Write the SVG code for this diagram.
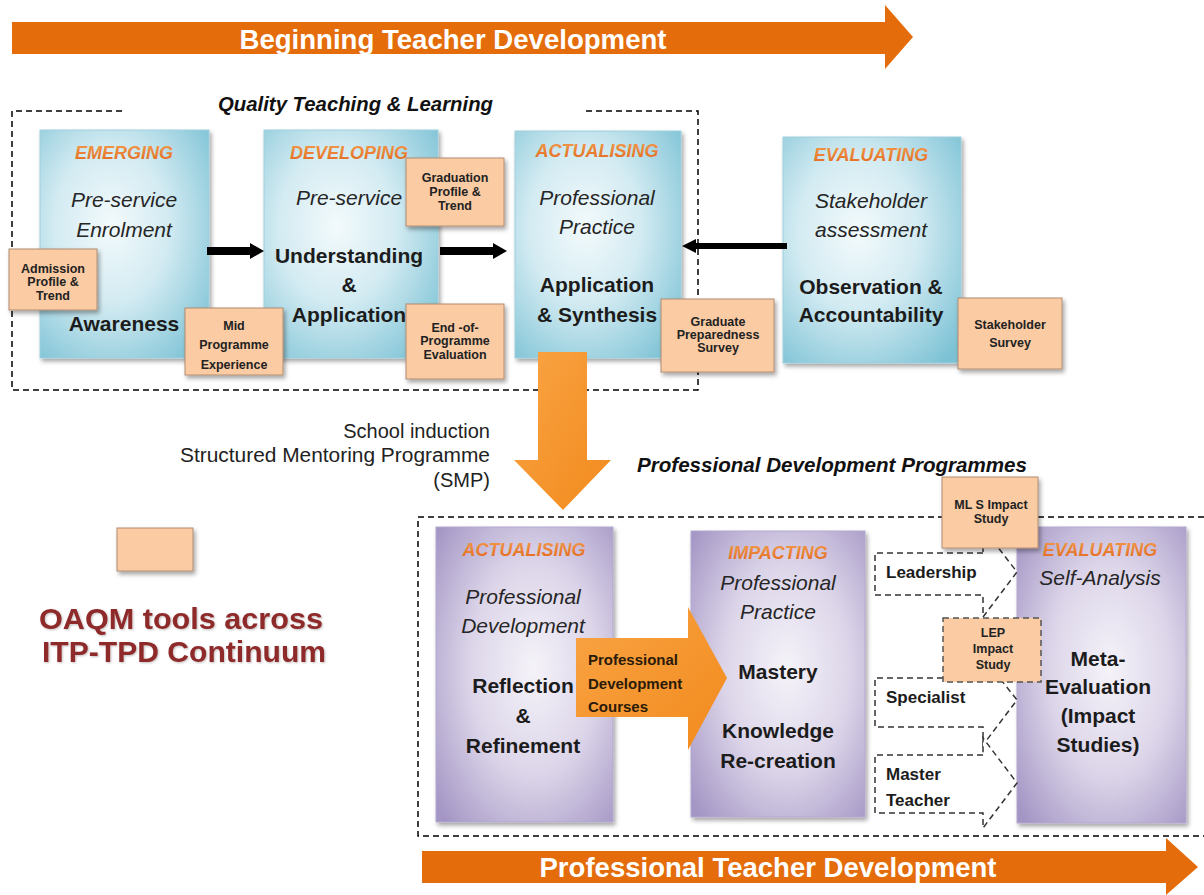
<svg xmlns="http://www.w3.org/2000/svg" width="1204" height="895" viewBox="0 0 1204 895">
<defs>
  <radialGradient id="gBlue" cx="42%" cy="42%" r="75%">
    <stop offset="0" stop-color="#F3FAFC"/>
    <stop offset="0.45" stop-color="#D3EBF2"/>
    <stop offset="1" stop-color="#7CC2D5"/>
  </radialGradient>
  <radialGradient id="gPurple" cx="55%" cy="48%" r="72%">
    <stop offset="0" stop-color="#F5F3F9"/>
    <stop offset="0.5" stop-color="#DCD5E9"/>
    <stop offset="1" stop-color="#A395C4"/>
  </radialGradient>
  <linearGradient id="gOrange" x1="0" y1="0" x2="1" y2="1">
    <stop offset="0" stop-color="#F9A445"/>
    <stop offset="1" stop-color="#F28A1C"/>
  </linearGradient>
  <linearGradient id="gLabel" x1="0" y1="0" x2="0" y2="1">
    <stop offset="0" stop-color="#F39A4A"/>
    <stop offset="1" stop-color="#E2681E"/>
  </linearGradient>
  <filter id="sh" x="-10%" y="-10%" width="130%" height="130%">
    <feDropShadow dx="2" dy="3" stdDeviation="2" flood-color="#000" flood-opacity="0.35"/>
  </filter>
  <filter id="tsh" x="-5%" y="-10%" width="110%" height="130%">
    <feDropShadow dx="1" dy="1" stdDeviation="1" flood-color="#000" flood-opacity="0.25"/>
  </filter>
</defs>
<style>
  text { font-family: "Liberation Sans", Arial, sans-serif; }
  .banner { fill: #E46C0A; }
  .bannerTxt { font-weight: bold; font-size: 28px; fill: #FFFFFF; text-anchor: middle; }
  .frame { fill: none; stroke: #000; stroke-width: 1.5; stroke-dasharray: 6 4; }
  .blue { fill: url(#gBlue); stroke: #9FCFDD; stroke-width: 1; filter: url(#sh); }
  .purple { fill: url(#gPurple); stroke: #B3A8CF; stroke-width: 1; filter: url(#sh); }
  .tool { fill: #FBCBA3; stroke: #B08C70; stroke-width: 1; filter: url(#sh); }
  .toolDash { fill: #FBCBA3; stroke: #555; stroke-width: 1.5; stroke-dasharray: 6 4; }
  .toolTxt { font-weight: bold; font-size: 12.5px; fill: #222; text-anchor: middle; }
  .stage { font-style: italic; font-weight: bold; font-size: 18px; fill: url(#gLabel); text-anchor: middle; }
  .it { font-style: italic; font-size: 21px; fill: #262626; text-anchor: middle; }
  .bd { font-weight: bold; font-size: 21px; fill: #1C1C1C; text-anchor: middle; }
  .title { font-weight: bold; font-style: italic; font-size: 20px; fill: #111; }
  .plain { font-size: 20px; fill: #222; text-anchor: end; }
  .pathLbl { font-weight: bold; font-size: 17px; fill: #1C1C1C; }
  .pdc { font-weight: bold; font-size: 15px; fill: #2A1A0A; }
  .blk { fill: #000; }
  .dashArrow { fill: #FFFFFF; stroke: #333; stroke-width: 1.5; stroke-dasharray: 6 4; }
  .legend { font-weight: bold; font-size: 30px; fill: #8E2A2A; text-anchor: middle; filter: url(#tsh); }
</style>

<!-- Banners -->
<g id="banner-beginning">
  <polygon class="banner" points="12,22 885,22 885,5 913,37 885,69 885,54 12,54"/>
  <text class="bannerTxt" x="453" y="49" textLength="427" lengthAdjust="spacingAndGlyphs">Beginning Teacher Development</text>
</g>
<g id="banner-professional">
  <polygon class="banner" points="422,851 1166,851 1166,838 1198,867 1166,895 1166,883 422,883"/>
  <text class="bannerTxt" x="768" y="877" textLength="457" lengthAdjust="spacingAndGlyphs">Professional Teacher Development</text>
</g>

<!-- Frames -->
<g id="frame-quality">
  <path class="frame" d="M122,111 H12 V390 H698 V111 H586"/>
  <text class="title" x="218" y="111" textLength="275" lengthAdjust="spacingAndGlyphs">Quality Teaching &amp; Learning</text>
</g>
<g id="frame-pdp">
  <path class="frame" d="M1204,517 H418 V836 H1204"/>
  <text class="title" x="637" y="472" textLength="390" lengthAdjust="spacingAndGlyphs">Professional Development Programmes</text>
</g>

<!-- Top nodes -->
<g id="node-emerging">
  <rect class="blue" x="40" y="130" width="169" height="228"/>
  <text class="stage" x="124" y="159">EMERGING</text>
  <text class="it" x="124" y="207">Pre-service</text>
  <text class="it" x="124" y="237">Enrolment</text>
  <text class="bd" x="124" y="331">Awareness</text>
</g>
<g id="node-developing">
  <rect class="blue" x="264" y="130" width="174" height="228"/>
  <text class="stage" x="349" y="159">DEVELOPING</text>
  <text class="it" x="349" y="205">Pre-service</text>
  <text class="bd" x="349" y="263">Understanding</text>
  <text class="bd" x="349" y="292">&amp;</text>
  <text class="bd" x="349" y="322">Application</text>
</g>
<g id="node-actualising-top">
  <rect class="blue" x="515" y="131" width="166" height="227"/>
  <text class="stage" x="597" y="157">ACTUALISING</text>
  <text class="it" x="597" y="205">Professional</text>
  <text class="it" x="597" y="234">Practice</text>
  <text class="bd" x="597" y="292">Application</text>
  <text class="bd" x="597" y="322">&amp; Synthesis</text>
</g>
<g id="node-evaluating-top">
  <rect class="blue" x="783" y="137" width="178" height="226"/>
  <text class="stage" x="871" y="161">EVALUATING</text>
  <text class="it" x="871" y="208">Stakeholder</text>
  <text class="it" x="871" y="237">assessment</text>
  <text class="bd" x="871" y="294">Observation &amp;</text>
  <text class="bd" x="871" y="322">Accountability</text>
</g>

<!-- Bottom nodes -->
<g id="node-actualising-bottom">
  <rect class="purple" x="436" y="527" width="177" height="295"/>
  <text class="stage" x="524" y="556">ACTUALISING</text>
  <text class="it" x="523" y="604">Professional</text>
  <text class="it" x="523" y="633">Development</text>
  <text class="bd" x="523" y="693">Reflection</text>
  <text class="bd" x="523" y="723">&amp;</text>
  <text class="bd" x="523" y="753">Refinement</text>
</g>
<g id="node-impacting">
  <rect class="purple" x="691" y="531" width="174" height="286"/>
  <text class="stage" x="778" y="559">IMPACTING</text>
  <text class="it" x="778" y="590">Professional</text>
  <text class="it" x="778" y="619">Practice</text>
  <text class="bd" x="778" y="679">Mastery</text>
  <text class="bd" x="778" y="738">Knowledge</text>
  <text class="bd" x="778" y="768">Re-creation</text>
</g>
<g id="node-evaluating-bottom">
  <rect class="purple" x="1017" y="527" width="169" height="296"/>
  <text class="stage" x="1100" y="556">EVALUATING</text>
  <text class="it" x="1100" y="585">Self-Analysis</text>
  <text class="bd" x="1098" y="666">Meta-</text>
  <text class="bd" x="1098" y="694">Evaluation</text>
  <text class="bd" x="1098" y="723">(Impact</text>
  <text class="bd" x="1098" y="752">Studies)</text>
</g>

<!-- Connectors -->
<g id="connectors">
  <polygon class="blk" points="207,247 250,247 250,243 264,251 250,259 250,255 207,255"/>
  <polygon class="blk" points="440,247 493,247 493,243 507,251 493,259 493,255 440,255"/>
  <polygon class="blk" points="787,243 696,243 696,239 682,246 696,253 696,249 787,249"/>
  <polygon id="arrow-smp" fill="url(#gOrange)" points="538,352 587,352 587,460 611,460 563,510 514,460 538,460"/>
  <polygon id="arrow-pdc" fill="url(#gOrange)" points="576,638 688,638 688,607 727,678 688,750 688,717 576,717"/>
  <text class="pdc" x="588" y="665">Professional</text>
  <text class="pdc" x="588" y="689">Development</text>
  <text class="pdc" x="588" y="712">Courses</text>
  <path id="arrow-leadership" class="dashArrow" d="M983,553 H875 V595 H983 V617 L1017,572 L983,528 Z"/>
  <path id="arrow-specialist" class="dashArrow" d="M983,678 H875 V727 H983 V745 L1017,700 L983,657 Z"/>
  <path id="arrow-master" class="dashArrow" d="M983,755 H875 V813 H983 V828 L1017,783 L983,738 Z"/>
  <text class="pathLbl" x="886" y="578">Leadership</text>
  <text class="pathLbl" x="886" y="703">Specialist</text>
  <text class="pathLbl" x="886" y="780">Master</text>
  <text class="pathLbl" x="886" y="806">Teacher</text>
</g>

<!-- Tool boxes (top) -->
<g id="tool-admission">
  <rect class="tool" x="9" y="249" width="88" height="61"/>
  <text class="toolTxt" x="53" y="273">Admission</text>
  <text class="toolTxt" x="53" y="286">Profile &amp;</text>
  <text class="toolTxt" x="53" y="300">Trend</text>
</g>
<g id="tool-mid">
  <rect class="tool" x="185" y="308" width="98" height="67"/>
  <text class="toolTxt" x="234" y="330">Mid</text>
  <text class="toolTxt" x="234" y="349">Programme</text>
  <text class="toolTxt" x="234" y="369">Experience</text>
</g>
<g id="tool-graduation">
  <rect class="tool" x="406" y="158" width="98" height="68"/>
  <text class="toolTxt" x="455" y="182">Graduation</text>
  <text class="toolTxt" x="455" y="196">Profile &amp;</text>
  <text class="toolTxt" x="455" y="210">Trend</text>
</g>
<g id="tool-end">
  <rect class="tool" x="406" y="304" width="98" height="75"/>
  <text class="toolTxt" x="455" y="332">End -of-</text>
  <text class="toolTxt" x="455" y="345">Programme</text>
  <text class="toolTxt" x="455" y="359">Evaluation</text>
</g>
<g id="tool-graduate">
  <rect class="tool" x="661" y="299" width="113" height="73"/>
  <text class="toolTxt" x="718" y="326">Graduate</text>
  <text class="toolTxt" x="718" y="339">Preparedness</text>
  <text class="toolTxt" x="718" y="352">Survey</text>
</g>
<g id="tool-stakeholder">
  <rect class="tool" x="958" y="298" width="104" height="71"/>
  <text class="toolTxt" x="1010" y="329">Stakeholder</text>
  <text class="toolTxt" x="1010" y="347">Survey</text>
</g>
<g id="tool-mls">
  <rect class="tool" x="942" y="477" width="96" height="71"/>
  <text class="toolTxt" x="991" y="509">ML S Impact</text>
  <text class="toolTxt" x="991" y="523">Study</text>
</g>
<g id="tool-lep">
  <rect class="toolDash" x="943" y="618" width="98" height="64"/>
  <text class="toolTxt" x="993" y="637">LEP</text>
  <text class="toolTxt" x="993" y="653">Impact</text>
  <text class="toolTxt" x="993" y="669">Study</text>
</g>

<!-- SMP label -->
<g id="label-smp">
  <text class="plain" x="490" y="438">School induction</text>
  <text class="plain" x="490" y="462" textLength="310" lengthAdjust="spacingAndGlyphs">Structured Mentoring Programme</text>
  <text class="plain" x="490" y="487">(SMP)</text>
</g>

<!-- Legend -->
<g id="legend">
  <rect class="tool" x="117" y="528" width="76" height="43"/>
  <text class="legend" x="181" y="629" textLength="284" lengthAdjust="spacingAndGlyphs">OAQM tools across</text>
  <text class="legend" x="184" y="662" textLength="284" lengthAdjust="spacingAndGlyphs">ITP-TPD Continuum</text>
</g>
</svg>
